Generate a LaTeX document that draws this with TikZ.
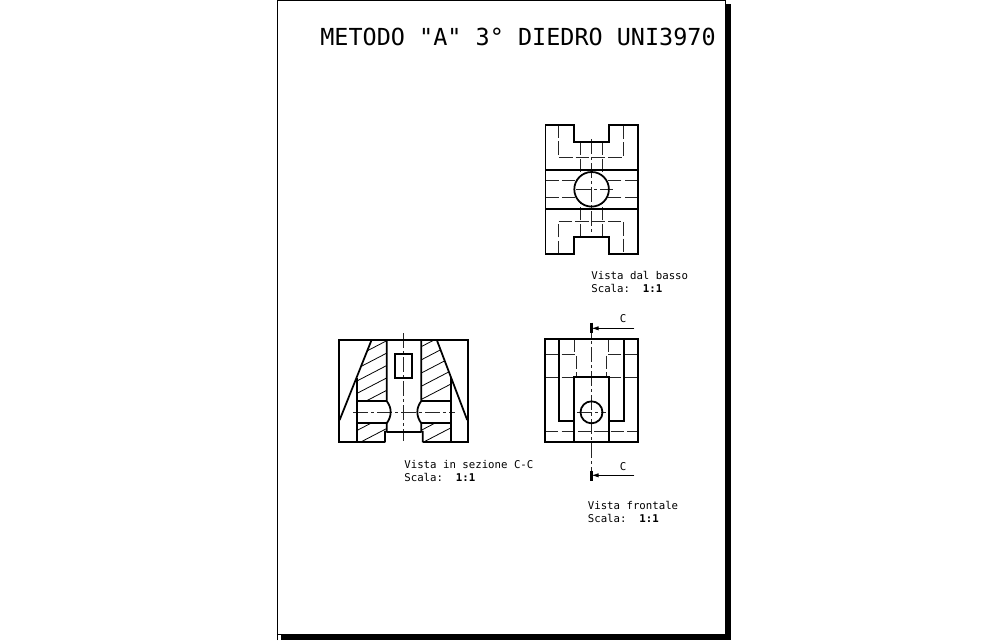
\documentclass[tikz,border=0pt]{standalone}
\usepackage{fontspec}
\setmonofont{DejaVu Sans Mono}
\usetikzlibrary{arrows.meta}
\tikzset{
  thk/.style={line width=1pt, line join=miter},
  hid/.style={line width=.55pt, dash pattern=on 7.5pt off 1.8pt, black!85},
  axs/.style={line width=.5pt, dash pattern=on 8.5pt off 1.8pt on 1.6pt off 1.8pt, black!85},
  hatchln/.style={line width=.45pt},
  lbl/.style={anchor=west, inner sep=0pt, font=\ttfamily\fontsize{6.1}{7}\selectfont},
  ttl/.style={anchor=west, inner sep=0pt, font=\ttfamily\fontsize{13.35}{15}\selectfont}
}
\begin{document}
\begin{tikzpicture}[x=.02cm,y=-.02cm]
\useasboundingbox (0,0) rectangle (1007,640);
\fill[black] (281,4) rectangle (730.5,640);
\fill[white] (277,0) rectangle (725.5,634.5);
\draw[line width=.6pt] (277.3,640) -- (277.3,.3) -- (725.5,.3) -- (725.5,634.5) -- (277.3,634.5);
\node[ttl] (title) at (320,36.5) {METODO "A" 3° DIEDRO UNI3970};
\node[lbl] (lbltop) at (591,275.5) {Vista dal basso};
\node[lbl] (lbltops) at (591,288.5) {Scala:\ \ \textbf{1:1}};
\node[lbl] (lblsec) at (404,464) {Vista in sezione C-C};
\node[lbl] (lblsecs) at (404,477) {Scala:\ \ \textbf{1:1}};
\node[lbl] (lblfro) at (587.5,505) {Vista frontale};
\node[lbl] (lblfros) at (587.5,518) {Scala:\ \ \textbf{1:1}};
% vista dal basso
\draw[hid] (558.7,125) -- (558.7,157) -- (623.3,157) -- (623.3,125);
\draw[hid] (558.7,253.7) -- (558.7,221.3) -- (623.3,221.3) -- (623.3,253.7);
\draw[hid] (580,142.3) -- (580,177);
\draw[hid] (602.7,142.3) -- (602.7,177);
\draw[hid] (580,236.7) -- (580,202);
\draw[hid] (602.7,236.7) -- (602.7,202);
\draw[hid] (545.5,180.7) -- (575.5,180.7);
\draw[hid] (637.7,180.7) -- (607.5,180.7);
\draw[hid] (545.5,197.3) -- (575.5,197.3);
\draw[hid] (637.7,197.3) -- (607.5,197.3);
\draw[axs] (591.6,139) -- (591.6,233);
\draw[axs] (576,189.3) -- (613,189.3);
\draw[thk] (545.5,125) -- (574,125) -- (574,142.3) -- (608.7,142.3) -- (608.7,125) -- (637.7,125) -- (637.7,253.7) -- (608.7,253.7) -- (608.7,236.7) -- (574,236.7) -- (574,253.7) -- (545.5,253.7) -- cycle;
\draw[thk] (545.5,170) -- (637.7,170);
\draw[thk] (545.5,208.7) -- (637.7,208.7);
\draw[thk] (591.6,189.3) circle[radius=17.3];
% vista in sezione
\begin{scope}
\clip (371.7,339.7) -- (386.7,339.7) -- (386.7,401) -- (356.7,401) -- (356.7,378.3) -- cycle;
\foreach \i in {0,...,4}
  \draw[hatchln] (330,{370.2+12.4*\i}) -- (390,{339+12.4*\i});
\end{scope}
\begin{scope}
\clip (356.7,423.3) -- (386.7,423.3) -- (386.7,431.7) -- (385,431.7) -- (385,442.3) -- (356.7,442.3) -- cycle;
\foreach \i in {0,...,3}
  \draw[hatchln] (330,{444.5+13.5*\i}) -- (390,{413.3+13.5*\i});
\end{scope}
\begin{scope}
\clip (421.3,339.7) -- (436.7,339.7) -- (450.7,378.3) -- (450.7,401) -- (421.3,401) -- cycle;
\foreach \i in {0,...,5}
  \draw[hatchln] (415,{336.7+13.2*\i}) -- (475,{305.5+13.2*\i});
\end{scope}
\begin{scope}
\clip (421.3,423.3) -- (450.7,423.3) -- (450.7,442.3) -- (422.7,442.3) -- (422.7,431.7) -- (421.3,431.7) -- cycle;
\foreach \i in {0,...,3}
  \draw[hatchln] (415,{420.5+13*\i}) -- (475,{389.3+13*\i});
\end{scope}
\draw[axs] (403.7,333) -- (403.7,441);
\draw[axs] (353,412) -- (455,412);
\draw[thk] (385,442.3) -- (339,442.3) -- (339,339.7) -- (467.7,339.7) -- (467.7,442.3) -- (422.7,442.3);
\draw[thk] (371.7,339.7) -- (339.6,420);
\draw[thk] (436.7,339.7) -- (467.2,420);
\draw[thk] (356.7,378.3) -- (356.7,442.3);
\draw[thk] (450.7,378.3) -- (450.7,442.3);
\draw[thk] (386.7,339.7) -- (386.7,401) .. controls (392,408) and (392,416) .. (386.7,423.3) -- (386.7,431.7) -- (385,431.7) -- (385,442.3);
\draw[thk] (421.3,339.7) -- (421.3,401) .. controls (416,408) and (416,416) .. (421.3,423.3) -- (421.3,431.7) -- (422.7,431.7) -- (422.7,442.3);
\draw[thk] (386.7,431.7) -- (421.3,431.7);
\draw[thk] (356.7,401) -- (386.7,401);
\draw[thk] (356.7,423.3) -- (386.7,423.3);
\draw[thk] (421.3,401) -- (450.7,401);
\draw[thk] (421.3,423.3) -- (450.7,423.3);
\draw[thk] (395,354) rectangle (412,378.3);
% vista frontale
\draw[hid] (545.3,354.7) -- (576.7,354.7) -- (576.7,377.3);
\draw[hid] (637.7,354.7) -- (606,354.7) -- (606,377.3);
\draw[hid] (574.3,339.3) -- (574.3,354.7);
\draw[hid] (608.7,339.3) -- (608.7,354.7);
\draw[hid] (545.3,377.5) -- (574,377.5);
\draw[hid] (637.7,377.5) -- (608.7,377.5);
\draw[hid] (545.3,431.3) -- (637.7,431.3);
\draw[axs] (591.5,323) -- (591.5,481);
\draw[axs] (577,412.3) -- (606,412.3);
\draw[thk] (545.3,339.3) rectangle (637.7,442.3);
\draw[thk] (559.3,339.3) -- (559.3,421) -- (574,421);
\draw[thk] (623.7,339.3) -- (623.7,421) -- (608.7,421);
\draw[thk] (574,442.3) -- (574,377.3) -- (608.7,377.3) -- (608.7,442.3);
\draw[thk] (591.5,412.3) circle[radius=11];
\coordinate (cuttop) at (591.5,328.3);
\coordinate (cutbot) at (591.5,475.3);
\coordinate (tailtop) at (634.3,328.3);
\coordinate (tailbot) at (634.3,475.3);
\draw[line width=2pt] (591.5,322.7) -- (591.5,333.3);
\draw[line width=2pt] (591.5,470.7) -- (591.5,480.7);
\draw[line width=.45pt, -{Latex[length=4pt,width=2.4pt]}] (tailtop) -- (cuttop);
\draw[line width=.45pt, -{Latex[length=4pt,width=2.4pt]}] (tailbot) -- (cutbot);
\node[lbl, anchor=center] (ctop) at (623,319) {C};
\node[lbl, anchor=center] (cbot) at (623,466.7) {C};
\end{tikzpicture}
\end{document}
